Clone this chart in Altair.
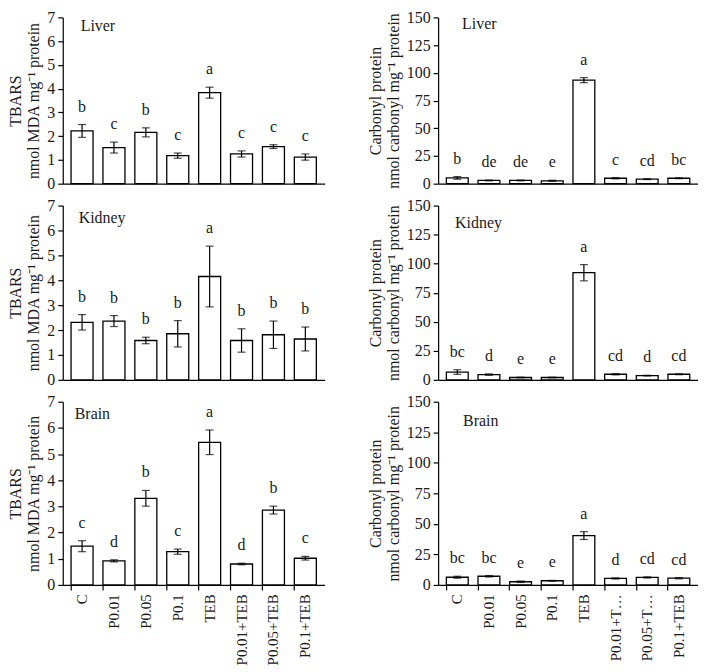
import altair as alt
import pandas as pd

groups = ["C", "P0.01", "P0.05", "P0.1", "TEB", "P0.01+TEB", "P0.05+TEB", "P0.1+TEB"]

tbars_liver = [2.22, 1.52, 2.16, 1.18, 3.83, 1.25, 1.56, 1.12]
tbars_liver_err = [0.27, 0.23, 0.19, 0.11, 0.23, 0.13, 0.08, 0.13]
tbars_liver_sig = ["b", "c", "b", "c", "a", "c", "c", "c"]

tbars_kidney = [2.31, 2.36, 1.58, 1.85, 4.15, 1.58, 1.81, 1.64]
tbars_kidney_err = [0.31, 0.22, 0.13, 0.53, 1.22, 0.47, 0.55, 0.48]
tbars_kidney_sig = ["b", "b", "b", "b", "a", "b", "b", "b"]

tbars_brain = [1.48, 0.92, 3.31, 1.27, 5.45, 0.80, 2.86, 1.02]
tbars_brain_err = [0.21, 0.04, 0.30, 0.10, 0.47, 0.03, 0.15, 0.07]
tbars_brain_sig = ["c", "d", "b", "c", "a", "d", "b", "c"]

carb_liver = [5.2, 2.9, 2.9, 2.6, 93.4, 4.9, 4.1, 4.9]
carb_liver_err = [1.2, 0.4, 0.4, 0.5, 2.3, 0.6, 0.4, 0.4]
carb_liver_sig = ["b", "de", "de", "e", "a", "c", "cd", "bc"]

carb_kidney = [6.7, 4.5, 2.0, 2.0, 92.2, 4.8, 3.6, 4.8]
carb_kidney_err = [2.0, 0.6, 0.3, 0.3, 7.0, 0.6, 0.3, 0.4]
carb_kidney_sig = ["bc", "d", "e", "e", "a", "cd", "d", "cd"]

carb_brain = [6.3, 7.1, 2.6, 3.4, 40.4, 5.3, 6.1, 5.5]
carb_brain_err = [0.8, 0.6, 0.6, 0.3, 3.2, 0.5, 0.5, 0.5]
carb_brain_sig = ["bc", "bc", "e", "e", "a", "d", "cd", "cd"]

tbars_title = ["TBARS", "nmol MDA mg\u207b\u00b9 protein"]
carb_title = ["Carbonyl protein", "nmol carbonyl mg\u207b\u00b9 protein"]

FONT = "Liberation Serif"
TXT = "#1a1a1a"

right_label_expr = ("datum.label == 'P0.01+TEB' ? 'P0.01+T\u2026' : "
                    "datum.label == 'P0.05+TEB' ? 'P0.05+T\u2026' : datum.label")


def panel(vals, errs, sig, ymax, step, ytitle, organ, bottom, w, h, ox, oy, right=False):
    df = pd.DataFrame({"g": groups, "v": vals, "e": errs, "s": sig})
    df["lo"] = df["v"] - df["e"]
    df["hi"] = df["v"] + df["e"]
    if bottom:
        xaxis = alt.Axis(title=None, labelAngle=270, labelAlign="right", labelBaseline="middle",
                         ticks=True, tickSize=5, bandPosition=0, labelPadding=4,
                         labelFontSize=15,
                         labelExpr=right_label_expr if right else "datum.label")
    else:
        xaxis = alt.Axis(title=None, labels=False, ticks=False)
    x = alt.X("g:N", sort=groups, scale=alt.Scale(paddingInner=0.31, paddingOuter=0.26), axis=xaxis)
    yscale = alt.Scale(domain=[0, ymax], nice=False)
    yaxis = alt.Axis(values=list(range(0, ymax + 1, step)), title=ytitle, tickSize=5,
                     labelPadding=3, titlePadding=5)
    base = alt.Chart(df).encode(x=x)
    bars = base.mark_bar(fill="white", stroke="black", strokeWidth=1.3).encode(
        y=alt.Y("v:Q", scale=yscale, axis=yaxis))
    rule = base.mark_rule(color="black", strokeWidth=1.2).encode(
        y=alt.Y("lo:Q", scale=yscale, axis=yaxis), y2="hi:Q")
    cap_hi = base.mark_tick(color="black", size=8, thickness=1.2).encode(
        y=alt.Y("hi:Q", scale=yscale, axis=yaxis))
    cap_lo = base.mark_tick(color="black", size=8, thickness=1.2).encode(
        y=alt.Y("lo:Q", scale=yscale, axis=yaxis))
    letters = base.mark_text(dy=-18, fontSize=16, font=FONT, color=TXT, baseline="middle").encode(
        y=alt.Y("hi:Q", scale=yscale, axis=yaxis), text="s:N")
    org = alt.Chart(pd.DataFrame({"t": [organ]})).mark_text(
        align="left", baseline="middle", fontSize=16, font=FONT, color=TXT).encode(
        x=alt.value(ox), y=alt.value(oy), text="t:N")
    return alt.layer(bars, rule, cap_hi, cap_lo, letters, org).properties(width=w, height=h)


WL, WR = 263, 261
H1, H2, H3 = 167, 175, 184

row1 = alt.hconcat(
    panel(tbars_liver, tbars_liver_err, tbars_liver_sig, 7, 1, tbars_title, "Liver", False, WL, H1, 18, 9),
    panel(carb_liver, carb_liver_err, carb_liver_sig, 150, 25, carb_title, "Liver", False, WR, H1, 24, 7, True),
    spacing=43)
row2 = alt.hconcat(
    panel(tbars_kidney, tbars_kidney_err, tbars_kidney_sig, 7, 1, tbars_title, "Kidney", False, WL, H2, 16, 12),
    panel(carb_kidney, carb_kidney_err, carb_kidney_sig, 150, 25, carb_title, "Kidney", False, WR, H2, 17, 18, True),
    spacing=43)
row3 = alt.hconcat(
    panel(tbars_brain, tbars_brain_err, tbars_brain_sig, 7, 1, tbars_title, "Brain", True, WL, H3, 12, 12),
    panel(carb_brain, carb_brain_err, carb_brain_sig, 150, 25, carb_title, "Brain", True, WR, H3, 25, 19, True),
    spacing=43)

chart = alt.vconcat(row1, row2, row3, spacing=6).properties(
    padding={"left": 0, "top": 0, "right": 0, "bottom": 0}
).configure_view(stroke=None).configure_axis(
    grid=False, domainColor="black", tickColor="black", labelColor=TXT, titleColor=TXT,
    labelFont=FONT, titleFont=FONT, labelFontSize=16, titleFontSize=16,
    titleFontWeight="normal", titleLineHeight=18, domainWidth=1.2, tickWidth=1.2
).configure_text(font=FONT)

chart.save("out.html", embed_options={"renderer": "svg", "actions": False})
